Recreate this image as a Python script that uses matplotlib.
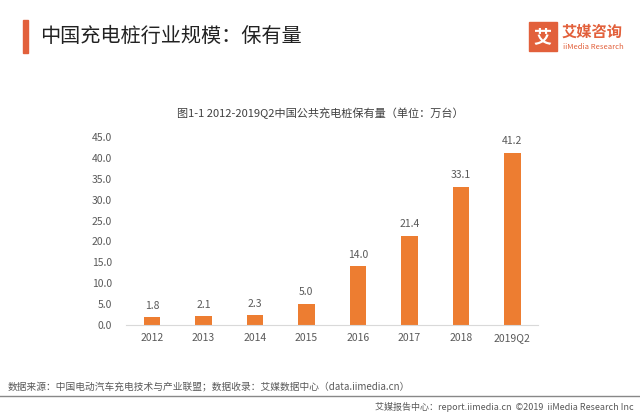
import matplotlib.pyplot as plt
from matplotlib.patches import Rectangle

plt.rcParams['font.family'] = ['Noto Sans CJK SC', 'DejaVu Sans']

categories = ["2012", "2013", "2014", "2015", "2016", "2017", "2018", "2019Q2"]
values = [1.8, 2.1, 2.3, 5.0, 14.0, 21.4, 33.1, 41.2]
yticks = [0, 5, 10, 15, 20, 25, 30, 35, 40, 45]

bar_color = "#ED7D31"
gray = "#595959"

fig = plt.figure(figsize=(6.4, 4.16), dpi=100)

# header
fig.patches.append(Rectangle((0.036, 0.873), 0.007, 0.08, transform=fig.transFigure,
                             color="#E2603B"))
fig.text(0.062, 0.913, "中国充电桩行业规模：保有量", fontsize=14.5, color="#222222",
         va="center", ha="left")
# logo
fig.patches.append(Rectangle((0.826, 0.878), 0.044, 0.068, transform=fig.transFigure,
                             color="#E2603B"))
fig.text(0.848, 0.912, "艾", fontsize=13, color="white", ha="center", va="center",
         fontweight="bold")
fig.text(0.878, 0.925, "艾媒咨询", fontsize=11, color="#E2603B", ha="left", va="center",
         fontweight="bold")
fig.text(0.879, 0.888, "iiMedia Research", fontsize=5.5, color="#E2603B", ha="left",
         va="center")

# chart title
fig.text(0.5, 0.728, "图1-1 2012-2019Q2中国公共充电桩保有量（单位：万台）",
         fontsize=8, color="#404040", ha="center", va="center")

ax = fig.add_axes([0.197, 0.2188, 0.644, 0.4519])
x = range(len(categories))
ax.bar(x, values, width=0.32, color=bar_color)
for xi, v in zip(x, values):
    ax.text(xi, v + 1.6, f"{v:.1f}", ha="center", va="bottom", fontsize=7.5, color=gray)

ax.set_xlim(-0.5, len(categories) - 0.5)
ax.set_ylim(0, 45)
ax.set_yticks(yticks)
ax.set_yticklabels([f"{t:.1f}" for t in yticks], fontsize=7.5, color=gray)
ax.set_xticks(list(x))
ax.set_xticklabels(categories, fontsize=7.5, color=gray)
for s in ["top", "right", "left"]:
    ax.spines[s].set_visible(False)
ax.spines["bottom"].set_color("#d9d9d9")
ax.tick_params(axis="both", length=0, pad=10)
ax.tick_params(axis="x", pad=6)

# footer
fig.text(0.012, 0.072, "数据来源：中国电动汽车充电技术与产业联盟；数据收录：艾媒数据中心（data.iimedia.cn）",
         fontsize=7, color="#595959", ha="left", va="center")
fig.add_artist(plt.Line2D([0, 1], [0.048, 0.048], transform=fig.transFigure,
                          color="#888888", lw=1))
fig.text(0.99, 0.022, "艾媒报告中心：report.iimedia.cn  ©2019  iiMedia Research Inc",
         fontsize=6.5, color="#595959", ha="right", va="center")

fig.savefig("out.png", dpi=100)
